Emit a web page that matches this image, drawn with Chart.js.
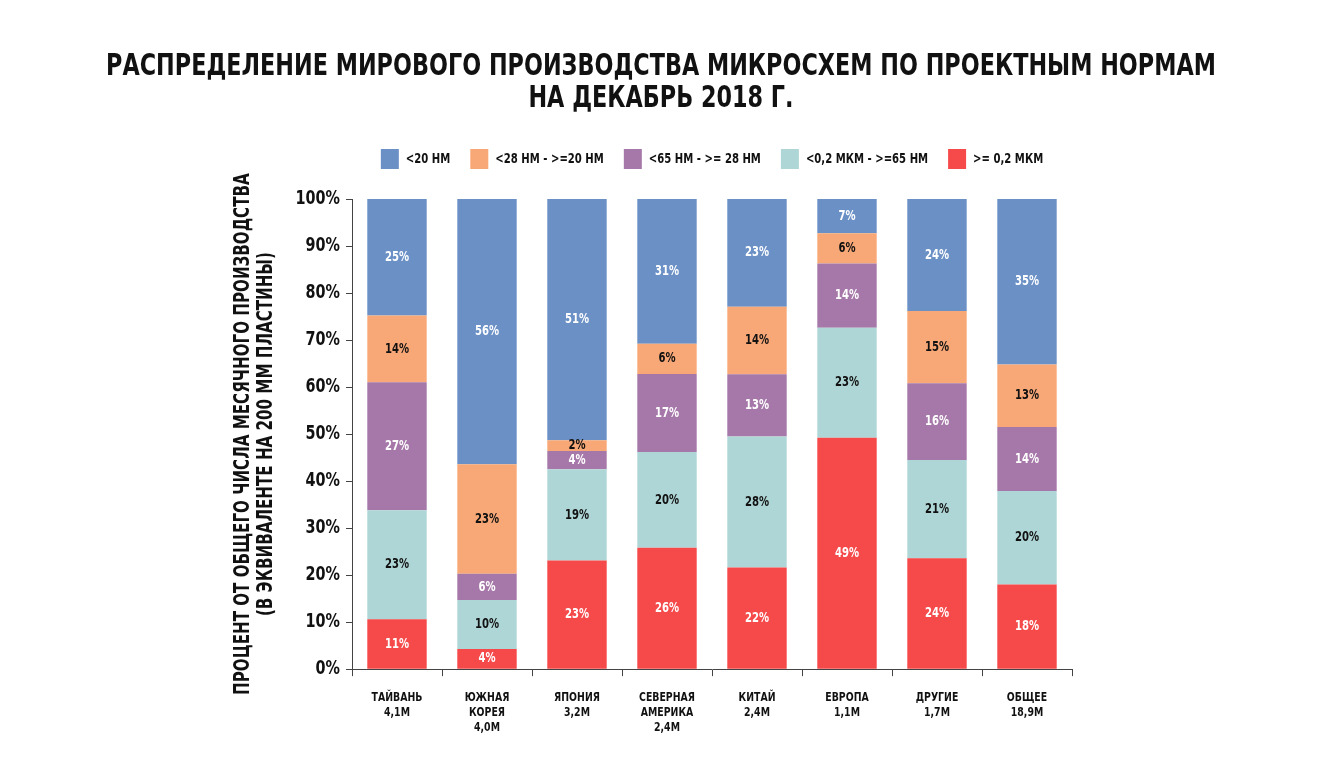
<!DOCTYPE html>
<html>
<head>
<meta charset="utf-8">
<script src="https://cdn.jsdelivr.net/npm/chart.js@4"></script>
<style>
  html, body { margin: 0; padding: 0; background: #fff; }
  #wrap { width: 1335px; height: 783px; }
</style>
</head>
<body>
<div id="wrap"><canvas id="myChart" width="1335" height="783"></canvas></div>
<script>
const FONT = '"DejaVu Sans", sans-serif';
const SQUEEZE = 0.72; // the original uses a narrow poster face

const titleLines = ["РАСПРЕДЕЛЕНИЕ МИРОВОГО ПРОИЗВОДСТВА МИКРОСХЕМ ПО ПРОЕКТНЫМ НОРМАМ", "НА ДЕКАБРЬ 2018 Г."];
const regions = [
  ["ТАЙВАНЬ", "4,1М"],
  ["ЮЖНАЯ", "КОРЕЯ", "4,0М"],
  ["ЯПОНИЯ", "3,2М"],
  ["СЕВЕРНАЯ", "АМЕРИКА", "2,4М"],
  ["КИТАЙ", "2,4М"],
  ["ЕВРОПА", "1,1М"],
  ["ДРУГИЕ", "1,7М"],
  ["ОБЩЕЕ", "18,9М"]
];
// shares in %, bottom to top
const over200nm = [10.6, 4.3, 23.1, 25.8, 21.6, 49.2, 23.6, 18.0];
const nm65to200 = [23.2, 10.4, 19.4, 20.4, 27.9, 23.4, 20.9, 19.9];
const nm28to65  = [27.2, 5.6, 3.9, 16.6, 13.2, 13.7, 16.3, 13.6];
const nm20to28  = [14.2, 23.3, 2.3, 6.4, 14.4, 6.4, 15.4, 13.3];
const under20nm = [24.8, 56.4, 51.3, 30.8, 22.9, 7.3, 23.8, 35.2];
const yTicks = [0, 10, 20, 30, 40, 50, 60, 70, 80, 90, 100];

// narrow every text the chart draws or measures
function squeezeText(c, k){
  const fill = c.fillText;
  const measure = c.measureText;
  c.fillText = function(text, x, y, maxWidth){
    this.save();
    this.translate(x, y);
    this.scale(k, 1);
    if(maxWidth === undefined) fill.call(this, text, 0, 0);
    else fill.call(this, text, 0, 0, maxWidth / k);
    this.restore();
  };
  c.measureText = function(text){
    const m = measure.call(this, text);
    return {
      width: m.width * k,
      actualBoundingBoxAscent: m.actualBoundingBoxAscent,
      actualBoundingBoxDescent: m.actualBoundingBoxDescent,
      actualBoundingBoxLeft: m.actualBoundingBoxLeft * k,
      actualBoundingBoxRight: m.actualBoundingBoxRight * k
    };
  };
}

const pageTitle = {
  id: "pageTitle",
  afterDraw(chart){
    const c = chart.ctx;
    c.save();
    c.font = "bold 31px " + FONT;
    c.fillStyle = "#111";
    c.textAlign = "center";
    c.textBaseline = "middle";
    c.fillText(titleLines[0], 661, 67);
    c.fillText(titleLines[1], 661, 99);
    c.restore();
  }
};

// labels inside the bar segments
const segmentLabels = {
  id: "segmentLabels",
  afterDatasetsDraw(chart){
    const c = chart.ctx;
    c.save();
    c.font = "bold 14px " + FONT;
    c.textAlign = "center";
    c.textBaseline = "middle";
    chart.data.datasets.forEach((ds, i) => {
      const meta = chart.getDatasetMeta(i);
      meta.data.forEach((bar, j) => {
        c.fillStyle = ds.labelColor;
        c.fillText(Math.round(ds.data[j]) + "%", bar.x, (bar.y + bar.base) / 2);
      });
    });
    c.restore();
  }
};

const ctx = document.getElementById("myChart").getContext("2d");
squeezeText(ctx, SQUEEZE);

const myChart = new Chart(ctx, {
  type: "bar",
  data: {
    labels: regions,
    datasets: [
      { label: ">= 0,2 МКМ", data: over200nm, backgroundColor: "#f5494a", labelColor: "#fff" },
      { label: "<0,2 МКМ - >=65 НМ", data: nm65to200, backgroundColor: "#afd6d6", labelColor: "#111" },
      { label: "<65 НМ - >= 28 НМ", data: nm28to65, backgroundColor: "#a678a9", labelColor: "#fff" },
      { label: "<28 НМ - >=20 НМ", data: nm20to28, backgroundColor: "#f8a877", labelColor: "#111" },
      { label: "<20 НМ", data: under20nm, backgroundColor: "#6a90c6", labelColor: "#fff" }
    ]
  },
  options: {
    responsive: false,
    animation: false,
    categoryPercentage: 0.66,
    barPercentage: 1,
    layout: { padding: { left: 232, right: 263, top: 129, bottom: 34 } },
    plugins: {
      title: { display: false },
      legend: {
        reverse: true,
        fullSize: false,
        labels: {
          color: "#111",
          boxWidth: 18,
          boxHeight: 20,
          padding: 20,
          font: { family: FONT, size: 14, weight: "bold" }
        }
      },
      // empty spacer between legend and plot
      subtitle: {
        display: true,
        text: "",
        weight: 0,
        font: { size: 10, lineHeight: 1 },
        padding: { top: 0, bottom: 10 }
      },
      tooltip: { enabled: false }
    },
    scales: {
      x: {
        stacked: true,
        grid: { display: true, drawOnChartArea: false, offset: true, tickLength: 7, color: "#444" },
        border: { color: "#444", width: 1 },
        ticks: {
          color: "#111",
          padding: 14,
          maxRotation: 0,
          font: { family: FONT, size: 13, weight: "bold", lineHeight: 1.15 }
        }
      },
      y: {
        stacked: true,
        min: 0,
        max: 100,
        afterBuildTicks: s => { s.ticks = yTicks.map(v => ({ value: v })); },
        afterFit: s => { s.width = 120; },
        grid: { display: true, drawOnChartArea: false, tickLength: 6, color: "#444" },
        border: { color: "#444", width: 1 },
        ticks: {
          color: "#111",
          padding: 6,
          font: { family: FONT, size: 20, weight: "bold" },
          callback: v => v + "%"
        },
        title: {
          display: true,
          text: ["ПРОЦЕНТ ОТ ОБЩЕГО ЧИСЛА МЕСЯЧНОГО ПРОИЗВОДСТВА", "(В ЭКВИВАЛЕНТЕ НА 200 ММ ПЛАСТИНЫ)"],
          color: "#111",
          font: { family: FONT, size: 21, weight: "bold", lineHeight: 1.1 },
          padding: 0
        }
      }
    }
  },
  plugins: [pageTitle, segmentLabels]
});
</script>
</body>
</html>
